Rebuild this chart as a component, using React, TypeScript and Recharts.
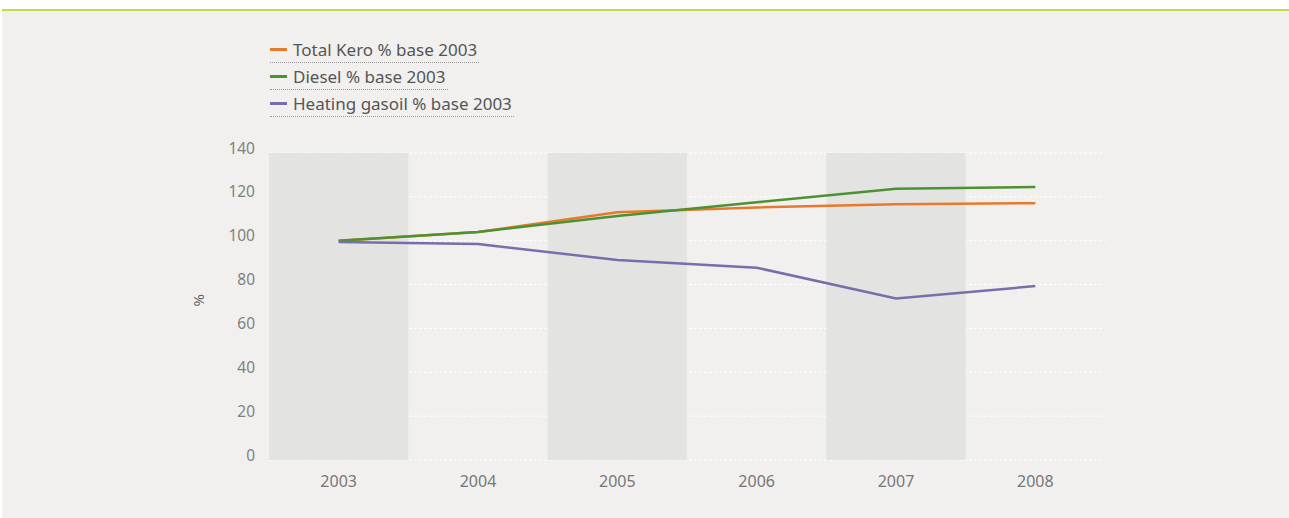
import React from "react";
import {
  CartesianGrid,
  Line,
  LineChart,
  ReferenceArea,
  XAxis,
  YAxis,
} from "recharts";

const years = ["2003", "2004", "2005", "2006", "2007", "2008"];
const kero = [100, 104, 113, 115.2, 116.6, 117.1];
const diesel = [100, 104, 111.3, 117.5, 123.7, 124.5];
const heating = [99.4, 98.5, 91.2, 87.7, 73.7, 79.3];
const shadedYears = ["2003", "2005", "2007"];
const yTicks = [0, 20, 40, 60, 80, 100, 120, 140];

const series = [
  { key: "Total Kero % base 2003", values: kero, color: "#e8792b" },
  { key: "Diesel % base 2003", values: diesel, color: "#4b9233" },
  { key: "Heating gasoil % base 2003", values: heating, color: "#7b6cab" },
];

const FONT = "'Noto Sans', 'Open Sans', sans-serif";

function LegendBox() {
  return (
    <div style={{ fontFamily: FONT }}>
      {series.map((s) => (
        <div
          key={s.key}
          style={{
            display: "flex",
            alignItems: "center",
            width: "fit-content",
            height: 25,
            borderBottom: "1px dotted #9a9a9a",
            marginBottom: 1,
            paddingRight: 2,
          }}
        >
          <span
            style={{
              display: "inline-block",
              width: 17,
              height: 3,
              background: s.color,
              marginRight: 6,
            }}
          />
          <span style={{ fontSize: 17, color: "#555", whiteSpace: "nowrap" }}>{s.key}</span>
        </div>
      ))}
    </div>
  );
}

export default function App() {
  const data = years.map((y, i) => {
    const row: Record<string, string | number> = { year: y };
    series.forEach((s) => {
      row[s.key] = s.values[i];
    });
    return row;
  });

  return (
    <div
      style={{
        position: "fixed",
        left: 0,
        top: 0,
        width: 1289,
        height: 518,
        background: "#fff",
      }}
    >
      <div
        style={{
          position: "absolute",
          left: 2,
          top: 9,
          right: 0,
          bottom: 0,
          background: "#f1f0ee",
          borderTop: "2px solid #c6da44",
        }}
      />
      <div style={{ position: "absolute", left: 0, top: 0 }}>
        <LineChart
          width={1289}
          height={518}
          data={data}
          margin={{ top: 153, right: 184, left: 189, bottom: 28 }}
        >
          {shadedYears.map((y) => (
            <ReferenceArea
              key={y}
              x1={y}
              x2={y}
              y1={0}
              y2={140}
              fill="#e3e3e2"
              fillOpacity={1}
              stroke="none"
              ifOverflow="visible"
            />
          ))}
          <CartesianGrid
            vertical={false}
            stroke="#ffffff"
            strokeDasharray="3 2"
            strokeWidth={1}
          />
          <XAxis
            dataKey="year"
            scale="band"
            axisLine={false}
            tickLine={false}
            tickMargin={10}
            height={30}
            tick={{ fontSize: 16, fill: "#777", fontFamily: FONT }}
          />
          <YAxis
            domain={[0, 140]}
            ticks={yTicks}
            width={80}
            axisLine={false}
            tickLine={false}
            tickMargin={8}
            tick={{ fontSize: 15.5, fill: "#808080", fontFamily: FONT, dy: -5 }}
            label={{
              value: "%",
              angle: -90,
              position: "insideLeft",
              offset: 10,
              style: { fontSize: 15, fill: "#666", fontFamily: FONT },
            }}
          />
          {series.map((s) => (
            <Line
              key={s.key}
              type="linear"
              dataKey={s.key}
              stroke={s.color}
              strokeWidth={2.5}
              dot={false}
              activeDot={false}
              isAnimationActive={false}
            />
          ))}
        </LineChart>
      </div>
      <div style={{ position: "absolute", left: 270, top: 37 }}>
        <LegendBox />
      </div>
    </div>
  );
}
